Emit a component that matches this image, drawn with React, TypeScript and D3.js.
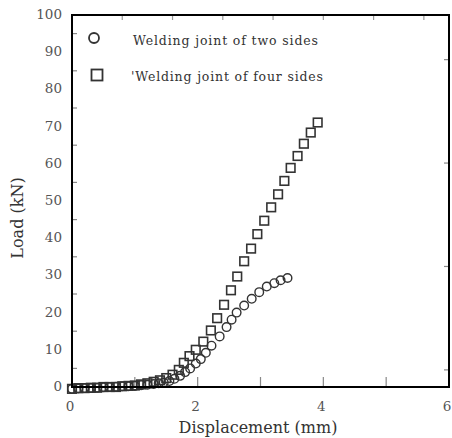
import React from "react";
import * as d3 from "d3";

// Welding joint of two sides (circles)
const twoSidesX = [0.0, 0.1, 0.2, 0.3, 0.4, 0.5, 0.6, 0.7, 0.8, 0.9, 1.0, 1.1, 1.2, 1.3, 1.38, 1.46, 1.55, 1.63, 1.72, 1.8, 1.88, 1.97, 2.05, 2.13, 2.22, 2.35, 2.46, 2.54, 2.62, 2.74, 2.86, 2.98, 3.1, 3.22, 3.32, 3.43];
const twoSidesY = [-0.5, -0.4, -0.3, -0.3, -0.2, -0.1, 0, 0.1, 0.2, 0.2, 0.3, 0.5, 0.6, 0.8, 1.0, 1.2, 1.6, 2.2, 3.0, 4.0, 5.0, 6.3, 7.5, 9.2, 11.1, 13.6, 16.1, 18.1, 20.0, 21.9, 23.7, 25.5, 27.0, 27.9, 28.7, 29.3];

// Welding joint of four sides (squares)
const fourSidesX = [0.0, 0.1, 0.2, 0.3, 0.4, 0.5, 0.6, 0.7, 0.8, 0.9, 1.0, 1.1, 1.2, 1.3, 1.4, 1.5, 1.6, 1.7, 1.78, 1.87, 1.97, 2.09, 2.21, 2.31, 2.42, 2.53, 2.63, 2.74, 2.85, 2.95, 3.06, 3.17, 3.28, 3.38, 3.48, 3.59, 3.69, 3.8, 3.91];
const fourSidesY = [-0.5, -0.3, -0.3, -0.2, -0.2, 0, 0, 0, 0.2, 0.3, 0.4, 0.7, 1.0, 1.4, 1.8, 2.4, 3.3, 4.6, 6.5, 8.3, 10.0, 12.2, 15.2, 18.5, 22.1, 26.0, 29.7, 33.8, 37.2, 41.1, 44.7, 48.3, 51.8, 55.4, 58.9, 62.1, 65.4, 68.4, 71.1];

const yLabels = [0, 10, 20, 30, 40, 50, 60, 70, 80, 90, 100];
const yTicks = [5, 15, 25, 35, 45, 55, 65, 75, 85, 95];
const xLabels = [0, 2, 4, 6];
const xTicks = [1, 2, 3, 4, 5];
const topTicks = [0.8, 1.6, 2.4, 3.2, 4.0, 4.8, 5.6];
const rightTicks = [4.6, 32.4, 60.2, 88.0];

const legendLabels = ["Welding joint of two sides", "'Welding joint of four sides"];

export default function App() {
  const W = 452, H = 438;
  const left = 72, right = 449, top = 15, bottom = 387;
  const x = d3.scaleLinear().domain([0, 6]).range([left, right]);
  const y = d3.scaleLinear().domain([0, 100]).range([bottom, top]);
  const ink = "#333";
  const font = "DejaVu Serif";

  const circles = twoSidesX.map((v, i) => [v, twoSidesY[i]]);
  const squares = fourSidesX.map((v, i) => [v, fourSidesY[i]]);

  return (
    <svg width={W} height={H} style={{ position: "absolute", left: 0, top: 0, background: "#fff" }}
      fontFamily={font}>
      {/* ticks */}
      {yTicks.map(t => (
        <line key={"yl" + t} x1={left} x2={left + 5} y1={y(t)} y2={y(t)} stroke="#888" strokeWidth={1.2} />
      ))}
      {xTicks.map(t => (
        <line key={"xb" + t} x1={x(t)} x2={x(t)} y1={bottom} y2={bottom - 10} stroke="#888" strokeWidth={1.2} />
      ))}
      {topTicks.map(t => (
        <line key={"xt" + t} x1={x(t)} x2={x(t)} y1={top} y2={top + 5} stroke="#999" strokeWidth={1.2} />
      ))}
      {rightTicks.map(t => (
        <line key={"yr" + t} x1={right} x2={right - 5} y1={y(t)} y2={y(t)} stroke="#888" strokeWidth={1.2} />
      ))}

      {/* markers */}
      {circles.map((d, i) => (
        <circle key={"c" + i} cx={x(d[0])} cy={y(d[1])} r={4.3} fill="none" stroke={ink} strokeWidth={1.4} />
      ))}
      {squares.map((d, i) => (
        <rect key={"s" + i} x={x(d[0]) - 4.3} y={y(d[1]) - 4.3} width={8.6} height={8.6}
          fill="none" stroke={ink} strokeWidth={1.6} />
      ))}

      {/* frame */}
      <rect x={left} y={top} width={right - left} height={bottom - top} fill="none" stroke="#000" strokeWidth={2} />

      {/* y labels */}
      {yLabels.map(t => (
        <text key={"ylab" + t} x={62} y={y(t)} dy="0.3em" textAnchor="end" fontSize={13.5} fill="#555">{t}</text>
      ))}
      {xLabels.map(t => (
        <text key={"xlab" + t} x={x(t) - 2} y={411} textAnchor="middle" fontSize={13.5} fill="#555">{t}</text>
      ))}

      <text x={258} y={433} textAnchor="middle" fontSize={16} fill="#333">Displacement (mm)</text>
      <text transform={`translate(23,${218}) rotate(-90)`} textAnchor="middle" fontSize={16} fill="#333">Load (kN)</text>

      {/* legend */}
      <circle cx={94} cy={38} r={5} fill="none" stroke={ink} strokeWidth={1.8} />
      <text x={133} y={45} fontSize={12.5} fill="#333" textLength={185} lengthAdjust="spacing">{legendLabels[0]}</text>
      <rect x={91.5} y={69.5} width={11} height={11} fill="none" stroke={ink} strokeWidth={1.8} />
      <text x={131} y={81} fontSize={12.5} fill="#333" textLength={192} lengthAdjust="spacing">{legendLabels[1]}</text>
    </svg>
  );
}
